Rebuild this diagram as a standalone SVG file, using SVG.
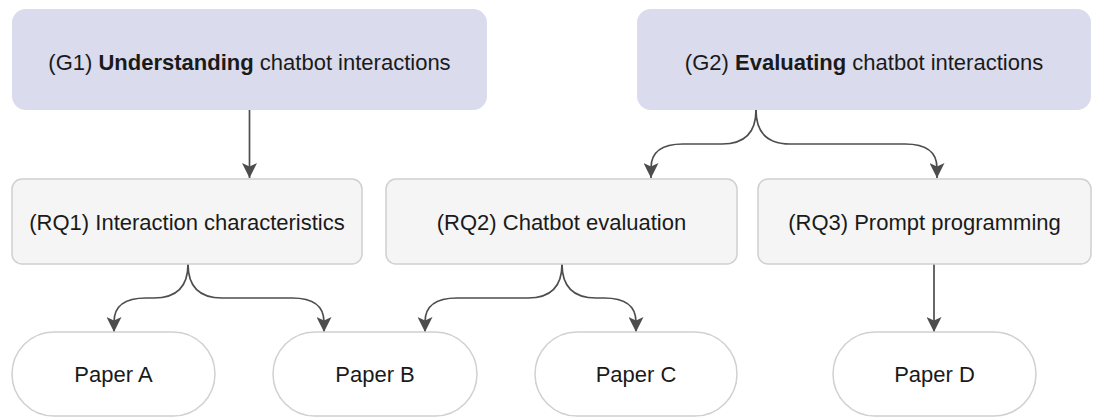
<svg xmlns="http://www.w3.org/2000/svg" width="1103" height="417" viewBox="0 0 1103 417">
  <style>
    .goal { fill: #dadbec; stroke: none; }
    .rq { fill: #f5f5f5; stroke: #d0d0d0; stroke-width: 1.5; }
    .paper { fill: #ffffff; stroke: #d0d0d0; stroke-width: 1.5; }
    .label { font-family: "Liberation Sans", Arial, sans-serif; font-size: 22px; fill: #1a1a1a; text-anchor: middle; }
    .label .b { font-weight: bold; }
    .edge { fill: none; stroke: #4d4d4d; stroke-width: 1.7; marker-end: url(#arrow); }
  </style>
  <defs>
    <marker id="arrow" viewBox="0 0 15 15" refX="15" refY="7.5" markerWidth="15" markerHeight="15" markerUnits="userSpaceOnUse" orient="auto">
      <path d="M0,0 L15,7.5 L0,15 L3.5,7.5 z" fill="#4d4d4d"/>
    </marker>
  </defs>

  <rect width="1103" height="417" fill="#ffffff"/>

  <!-- connectors -->
  <g id="connectors">
    <path class="edge" d="M249.5,110 L249.5,178"/>
    <path class="edge" d="M756,110 Q756,144 722,144 L683,144 Q651,144 651,168 L651,178"/>
    <path class="edge" d="M756,110 Q756,144 790,144 L905,144 Q937,144 937,168 L937,178"/>
    <path class="edge" d="M188,264 Q188,298 154,298 L146,298 Q114,298 114,322 L114,332"/>
    <path class="edge" d="M188,264 Q188,298 222,298 L292,298 Q324,298 324,322 L324,332"/>
    <path class="edge" d="M562,264 Q562,298 528,298 L457,298 Q425,298 425,322 L425,332"/>
    <path class="edge" d="M562,264 Q562,298 596,298 L604,298 Q636,298 636,322 L636,332"/>
    <path class="edge" d="M934,264 L934,332"/>
  </g>

  <!-- goals -->
  <g id="g1">
    <rect class="goal" x="12" y="9" width="475" height="101" rx="14"/>
    <text class="label" x="249.5" y="70">(G1) <tspan class="b">Understanding</tspan> chatbot interactions</text>
  </g>
  <g id="g2">
    <rect class="goal" x="637" y="9" width="454" height="101" rx="14"/>
    <text class="label" x="864" y="70">(G2) <tspan class="b">Evaluating</tspan> chatbot interactions</text>
  </g>

  <!-- research questions -->
  <g id="rq1">
    <rect class="rq" x="12" y="179" width="350" height="85" rx="10"/>
    <text class="label" x="187" y="229.5">(RQ1) Interaction characteristics</text>
  </g>
  <g id="rq2">
    <rect class="rq" x="386" y="179" width="351" height="85" rx="10"/>
    <text class="label" x="561.5" y="229.5">(RQ2) Chatbot evaluation</text>
  </g>
  <g id="rq3">
    <rect class="rq" x="758" y="179" width="333" height="85" rx="10"/>
    <text class="label" x="924.5" y="229.5">(RQ3) Prompt programming</text>
  </g>

  <!-- papers -->
  <g id="paper-a">
    <rect class="paper" x="12" y="332" width="203" height="84" rx="42"/>
    <text class="label" x="113.5" y="382">Paper A</text>
  </g>
  <g id="paper-b">
    <rect class="paper" x="273" y="332" width="204" height="84" rx="42"/>
    <text class="label" x="375" y="382">Paper B</text>
  </g>
  <g id="paper-c">
    <rect class="paper" x="535" y="332" width="202" height="84" rx="42"/>
    <text class="label" x="636" y="382">Paper C</text>
  </g>
  <g id="paper-d">
    <rect class="paper" x="833" y="332" width="203" height="84" rx="42"/>
    <text class="label" x="934.5" y="382">Paper D</text>
  </g>
</svg>
